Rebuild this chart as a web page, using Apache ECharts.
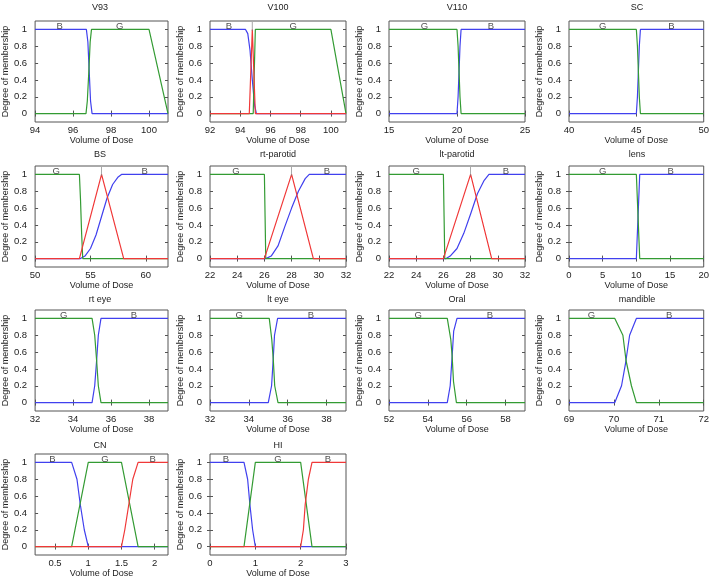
<!DOCTYPE html>
<html>
<head>
<meta charset="utf-8">
<script src="https://cdn.jsdelivr.net/npm/echarts@6/dist/echarts.min.js"></script>
<style>
  html, body { margin: 0; padding: 0; background: #fff; }
  #chart { width: 712px; height: 581px; }
</style>
</head>
<body>
<div id="chart"></div>
<script>
// ---- data: membership curves as [dose, degree] ----
const yTicks = [0, 0.2, 0.4, 0.6, 0.8, 1];

// V93
const v93Ticks = [94, 96, 98, 100];
const v93Blue = [[94, 1], [96.7, 1], [96.78, 0.85], [96.85, 0.5], [96.92, 0.15], [97, 0], [101, 0]];
const v93Green = [[94, 0], [96.68, 0], [96.75, 0.15], [96.83, 0.5], [96.9, 0.85], [96.97, 1], [100, 1], [101, 0]];
const v93Labels = [['B', 95.3], ['G', 98.45]];

// V100
const v100Ticks = [92, 94, 96, 98, 100];
const v100Blue = [[92, 1], [94.35, 1], [94.5, 0.95], [94.65, 0.75], [94.8, 0.4], [94.95, 0.1], [95.07, 0], [101, 0]];
const v100Green = [[92, 0], [94.86, 0], [95.0, 1], [100, 1], [101, 0]];
const v100Red = [[92, 0], [94.6, 0], [94.8, 1], [95.0, 0], [101, 0]];
const v100Labels = [['B', 93.26], ['|', 94.8], ['G', 97.5]];

// V110
const v110Ticks = [15, 20, 25];
const v110Blue = [[15, 0], [20.0, 0], [20.08, 0.2], [20.15, 0.5], [20.22, 0.8], [20.3, 1], [25, 1]];
const v110Green = [[15, 1], [20.0, 1], [20.08, 0.8], [20.15, 0.5], [20.22, 0.2], [20.3, 0], [25, 0]];
const v110Labels = [['G', 17.6], ['B', 22.5]];

// SC
const scTicks = [40, 45, 50];
const scBlue = [[40, 0], [45.0, 0], [45.08, 0.2], [45.15, 0.5], [45.22, 0.8], [45.3, 1], [50, 1]];
const scGreen = [[40, 1], [45.0, 1], [45.08, 0.8], [45.15, 0.5], [45.22, 0.2], [45.3, 0], [50, 0]];
const scLabels = [['G', 42.5], ['B', 47.6]];

// BS
const bsTicks = [50, 55, 60];
const bsBlue = [[50, 0], [54.1, 0], [54.5, 0.03], [55, 0.12], [55.5, 0.28], [56, 0.5], [56.5, 0.72], [57, 0.88], [57.5, 0.97], [57.8, 1], [62, 1]];
const bsGreen = [[50, 1], [54, 1], [54.1, 0.7], [54.2, 0.3], [54.3, 0], [62, 0]];
const bsRed = [[50, 0], [54, 0], [56, 1], [58, 0], [62, 0]];
const bsLabels = [['G', 51.9], ['|', 56], ['B', 59.9]];

// rt-parotid
const rtParTicks = [22, 24, 26, 28, 30, 32];
const rtParBlue = [[22, 0], [26.1, 0], [26.5, 0.03], [27, 0.15], [27.5, 0.38], [28, 0.6], [28.5, 0.8], [29, 0.95], [29.3, 1], [32, 1]];
const rtParGreen = [[22, 1], [26, 1], [26.05, 0.5], [26.1, 0], [32, 0]];
const rtParRed = [[22, 0], [26, 0], [28, 1], [29.6, 0], [32, 0]];
const rtParLabels = [['G', 23.9], ['|', 28], ['B', 30.6]];

// lt-parotid
const ltParTicks = [22, 24, 26, 28, 30, 32];
const ltParBlue = [[22, 0], [26.2, 0], [26.5, 0.03], [27, 0.12], [27.5, 0.3], [28, 0.53], [28.5, 0.77], [29, 0.93], [29.35, 1], [32, 1]];
const ltParGreen = [[22, 1], [26, 1], [26.05, 0.5], [26.1, 0], [32, 0]];
const ltParRed = [[22, 0], [26, 0], [28, 1], [29.55, 0], [32, 0]];
const ltParLabels = [['G', 24], ['|', 28], ['B', 30.6]];

// lens
const lensTicks = [0, 5, 10, 15, 20];
const lensBlue = [[0, 0], [10, 0], [10.1, 0.2], [10.25, 0.5], [10.4, 0.8], [10.5, 1], [20, 1]];
const lensGreen = [[0, 1], [10, 1], [10.1, 0.8], [10.25, 0.5], [10.4, 0.2], [10.5, 0], [20, 0]];
const lensLabels = [['G', 5.0], ['B', 15.1]];

// rt eye
const rtEyeTicks = [32, 34, 36, 38];
const rtEyeBlue = [[32, 0], [35, 0], [35.14, 0.2], [35.24, 0.5], [35.33, 0.8], [35.47, 1], [39, 1]];
const rtEyeGreen = [[32, 1], [35, 1], [35.14, 0.8], [35.24, 0.5], [35.33, 0.2], [35.47, 0], [39, 0]];
const rtEyeLabels = [['G', 33.5], ['B', 37.2]];

// lt eye
const ltEyeTicks = [32, 34, 36, 38];
const ltEyeBlue = [[32, 0], [35, 0], [35.17, 0.2], [35.25, 0.5], [35.32, 0.8], [35.48, 1], [39, 1]];
const ltEyeGreen = [[32, 1], [35.05, 1], [35.18, 0.75], [35.26, 0.5], [35.33, 0.2], [35.5, 0], [39, 0]];
const ltEyeLabels = [['G', 33.5], ['B', 37.2]];

// Oral
const oralTicks = [52, 54, 56, 58];
const oralBlue = [[52, 0], [55.0, 0], [55.15, 0.2], [55.25, 0.55], [55.33, 0.85], [55.5, 1], [59, 1]];
const oralGreen = [[52, 1], [55, 1], [55.18, 0.75], [55.25, 0.55], [55.32, 0.25], [55.47, 0], [59, 0]];
const oralLabels = [['G', 53.5], ['B', 57.2]];

// mandible
const mandTicks = [69, 70, 71, 72];
const mandBlue = [[69, 0], [70.02, 0], [70.17, 0.2], [70.26, 0.47], [70.35, 0.8], [70.5, 1], [72, 1]];
const mandGreen = [[69, 1], [70.02, 1], [70.2, 0.8], [70.27, 0.5], [70.39, 0.2], [70.5, 0], [72, 0]];
const mandLabels = [['G', 69.5], ['B', 71.23]];

// CN
const cnTicks = [0.5, 1, 1.5, 2];
const cnBlue = [[0.2, 1], [0.75, 1], [0.83, 0.8], [0.88, 0.5], [0.94, 0.2], [1.0, 0], [2.2, 0]];
const cnGreen = [[0.2, 0], [0.75, 0], [1.0, 1], [1.5, 1], [1.75, 0], [2.2, 0]];
const cnRed = [[0.2, 0], [1.5, 0], [1.55, 0.2], [1.61, 0.5], [1.67, 0.8], [1.75, 1], [2.2, 1]];
const cnLabels = [['B', 0.46], ['G', 1.25], ['B', 1.97]];

// HI
const hiTicks = [0, 1, 2, 3];
const hiBlue = [[0, 1], [0.75, 1], [0.83, 0.8], [0.88, 0.5], [0.94, 0.2], [1.0, 0], [3, 0]];
const hiGreen = [[0, 0], [0.75, 0], [1.0, 1], [2.0, 1], [2.25, 0], [3, 0]];
const hiRed = [[0, 0], [2.0, 0], [2.06, 0.2], [2.1, 0.5], [2.17, 0.8], [2.25, 1], [3, 1]];
const hiLabels = [['B', 0.35], ['G', 1.5], ['B', 2.6]];

const panels = [
  { title: 'V93', range: [94, 101], ticks: v93Ticks, blue: v93Blue, green: v93Green, labels: v93Labels },
  { title: 'V100', range: [92, 101], ticks: v100Ticks, blue: v100Blue, green: v100Green, red: v100Red, labels: v100Labels },
  { title: 'V110', range: [15, 25], ticks: v110Ticks, blue: v110Blue, green: v110Green, labels: v110Labels },
  { title: 'SC', range: [40, 50], ticks: scTicks, blue: scBlue, green: scGreen, labels: scLabels },
  { title: 'BS', range: [50, 62], ticks: bsTicks, blue: bsBlue, green: bsGreen, red: bsRed, labels: bsLabels },
  { title: 'rt-parotid', range: [22, 32], ticks: rtParTicks, blue: rtParBlue, green: rtParGreen, red: rtParRed, labels: rtParLabels },
  { title: 'lt-parotid', range: [22, 32], ticks: ltParTicks, blue: ltParBlue, green: ltParGreen, red: ltParRed, labels: ltParLabels },
  { title: 'lens', range: [0, 20], ticks: lensTicks, blue: lensBlue, green: lensGreen, labels: lensLabels },
  { title: 'rt eye', range: [32, 39], ticks: rtEyeTicks, blue: rtEyeBlue, green: rtEyeGreen, labels: rtEyeLabels },
  { title: 'lt eye', range: [32, 39], ticks: ltEyeTicks, blue: ltEyeBlue, green: ltEyeGreen, labels: ltEyeLabels },
  { title: 'Oral', range: [52, 59], ticks: oralTicks, blue: oralBlue, green: oralGreen, labels: oralLabels },
  { title: 'mandible', range: [69, 72], ticks: mandTicks, blue: mandBlue, green: mandGreen, labels: mandLabels },
  { title: 'CN', range: [0.2, 2.2], ticks: cnTicks, blue: cnBlue, green: cnGreen, red: cnRed, labels: cnLabels },
  { title: 'HI', range: [0, 3], ticks: hiTicks, blue: hiBlue, green: hiGreen, red: hiRed, labels: hiLabels }
];

// ---- layout / style ----
const FONT = '"Liberation Sans", Arial, sans-serif';
const TXT = '#222';
const FRAME = '#555';
const COLORS = { blue: '#4040ee', green: '#339b33', red: '#f03838' };
const colLeft = [32, 210, 389, 569];
const rowTop = [21, 166, 310, 454];
const titleY = [8, 154.5, 299.5, 446];
const W = 136, H = 101;
const FS = 9;

const grids = [], xAxes = [], yAxes = [], series = [], graphics = [];

panels.forEach((p, i) => {
  const r = Math.floor(i / 4), c = i % 4;
  grids.push({
    left: colLeft[c], top: rowTop[r], width: W, height: H,
    show: true, borderColor: FRAME, borderWidth: 1, backgroundColor: '#fff'
  });
  const tick = (vals) => ({ show: true, inside: true, length: 3, customValues: vals, lineStyle: { color: FRAME } });
  // bottom + top x axes
  xAxes.push({
    gridIndex: i, type: 'value', position: 'bottom', min: p.range[0], max: p.range[1],
    axisLine: { show: false }, splitLine: { show: false }, axisTick: tick(p.ticks),
    axisLabel: { customValues: p.ticks, margin: 3, fontSize: FS + 0.5, color: TXT, fontFamily: FONT },
    name: 'Volume of Dose', nameLocation: 'middle', nameGap: 14,
    nameTextStyle: { fontSize: FS, color: TXT, fontFamily: FONT }
  });
  xAxes.push({
    gridIndex: i, type: 'value', position: 'top', min: p.range[0], max: p.range[1],
    axisLine: { show: false }, splitLine: { show: false }, axisTick: tick(p.ticks), axisLabel: { show: false }
  });
  // left + right y axes
  yAxes.push({
    gridIndex: i, type: 'value', position: 'left', min: -0.1, max: 1.1,
    axisLine: { show: false }, splitLine: { show: false }, axisTick: tick(yTicks),
    axisLabel: { customValues: yTicks, margin: 8, fontSize: FS + 0.5, color: TXT, fontFamily: FONT },
    name: 'Degree of membership', nameLocation: 'middle', nameGap: 17, nameRotate: 90,
    nameTextStyle: { fontSize: FS, color: TXT, fontFamily: FONT }
  });
  yAxes.push({
    gridIndex: i, type: 'value', position: 'right', min: -0.1, max: 1.1,
    axisLine: { show: false }, splitLine: { show: false }, axisTick: tick(yTicks), axisLabel: { show: false }
  });

  ['blue', 'green', 'red'].forEach(k => {
    if (!p[k]) return;
    series.push({
      type: 'line', xAxisIndex: 2 * i, yAxisIndex: 2 * i, data: p[k],
      symbol: 'none', smooth: false, lineStyle: { width: 1.2, color: COLORS[k] }, itemStyle: { color: COLORS[k] },
      silent: true, animation: false
    });
  });

  series.push({
    type: 'scatter', xAxisIndex: 2 * i, yAxisIndex: 2 * i, symbolSize: 0, silent: true, animation: false,
    data: p.labels.map(l => ({
      name: l[0], value: [l[1], 1.1],
      label: l[0] === '|' ? { color: '#777' } : undefined
    })),
    label: {
      show: true, position: 'bottom', distance: 0, formatter: '{b}', fontSize: FS + 0.5, fontFamily: FONT,
      color: TXT
    },
    z: 5
  });

  graphics.push({
    type: 'text', x: colLeft[c] + W / 2, y: titleY[r],
    style: { text: p.title, align: 'center', verticalAlign: 'middle', textAlign: 'center', textVerticalAlign: 'middle',
      fontSize: FS, fontFamily: FONT, fill: TXT }
  });
});

const chart = echarts.init(document.getElementById('chart'), null, { renderer: 'canvas' });
chart.setOption({
  backgroundColor: '#fff',
  animation: false,
  grid: grids,
  xAxis: xAxes,
  yAxis: yAxes,
  series: series,
  graphic: graphics
});
</script>
</body>
</html>
